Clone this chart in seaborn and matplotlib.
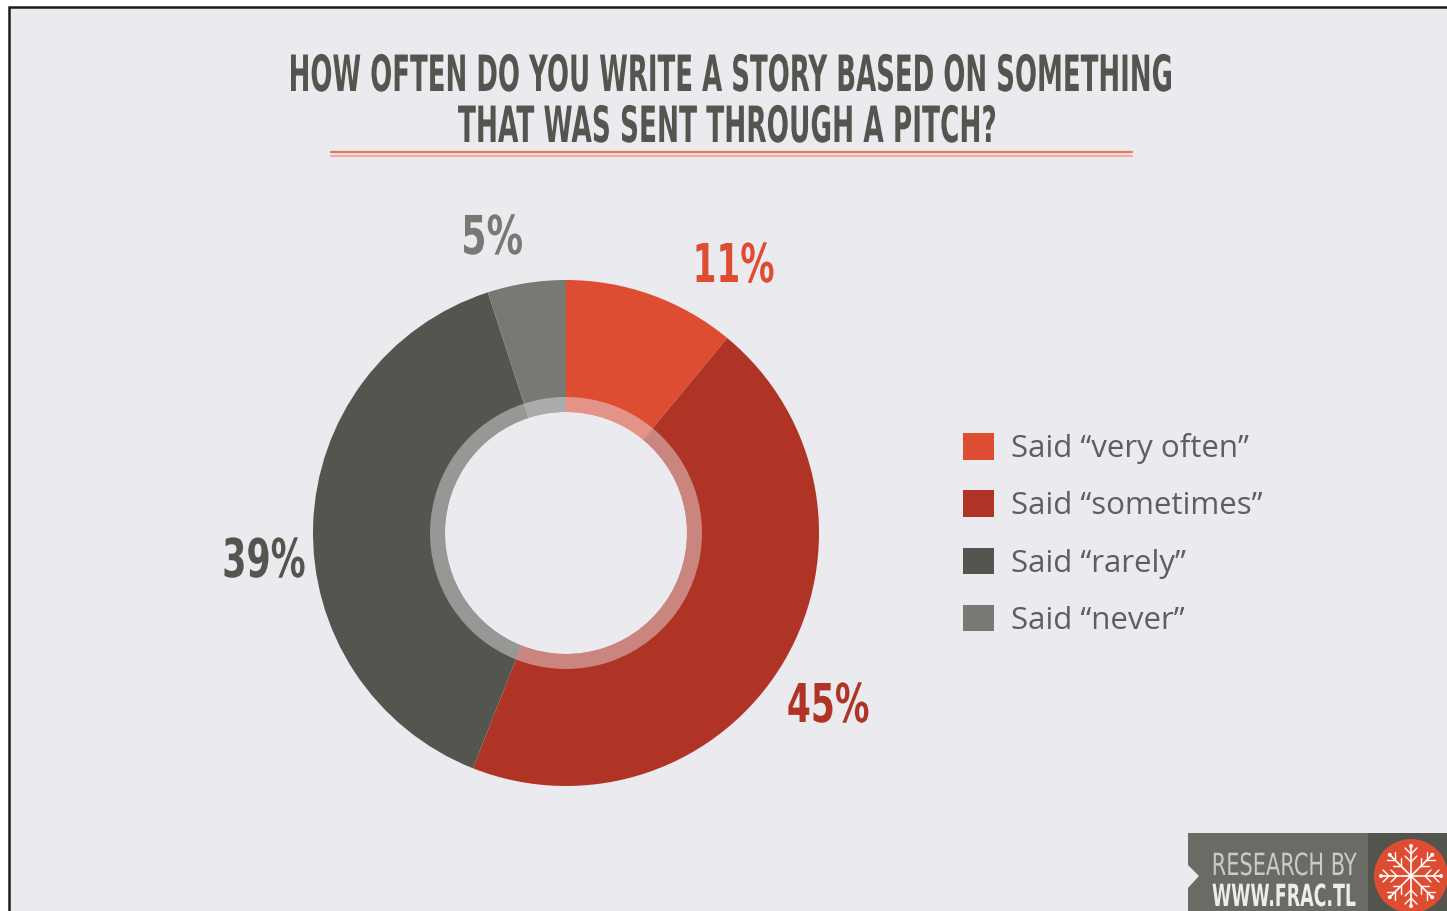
import numpy as np
import matplotlib
matplotlib.use("Agg")
import matplotlib.pyplot as plt
import seaborn as sns
from matplotlib.patches import Rectangle, Polygon, Circle
from matplotlib.lines import Line2D
from matplotlib.patheffects import AbstractPathEffect
from matplotlib.transforms import Affine2D

# ---------------- data ----------------
categories = ["very often", "sometimes", "rarely", "never"]
shares = [11, 45, 39, 5]
pct_labels = ["11%", "45%", "39%", "5%"]
legend_labels = ["Said \u201cvery often\u201d", "Said \u201csometimes\u201d",
                 "Said \u201crarely\u201d", "Said \u201cnever\u201d"]
title_lines = ["HOW OFTEN DO YOU WRITE A STORY BASED ON SOMETHING",
               "THAT WAS SENT THROUGH A PITCH?"]

# ---------------- style ----------------
W, H = 1447, 911
BG = "#EBEAEF"
palette = sns.color_palette(["#DE4C32", "#AF3425", "#54554E", "#787975"])
TITLE_C = "#55554F"
COND = ["DejaVu Sans"]

sns.set_theme(style="white")
plt.rcParams["font.family"] = ["Open Sans", "DejaVu Sans"]


class Condense(AbstractPathEffect):
    """Draw text condensed: ink spans width_px horizontally, height scaled by sy."""

    def __init__(self, width_px, sy=1.0, anchor="center"):
        super().__init__()
        self.w = width_px
        self.sy = sy
        self.anchor = anchor

    def draw_path(self, renderer, gc, tpath, affine, rgbFace=None):
        bb = tpath.get_extents(affine)
        if bb.width > 0:
            sx = self.w * renderer.points_to_pixels(72) / 100 / bb.width
            a = bb.x0 if self.anchor == "left" else 0.5 * (bb.x0 + bb.x1)
            y0 = affine.transform(np.array([[0.0, 0.0]]))[0][1]
            affine = affine + Affine2D().translate(-a, -y0).scale(sx, self.sy).translate(a, y0)
        renderer.draw_path(gc, tpath, affine, rgbFace)


fig = plt.figure(figsize=(W / 100, H / 100), dpi=100)
fig.patch.set_facecolor("white")


def fx(px):
    return px / W


def fy(py):
    return 1 - py / H


# framed panel
fig.add_artist(Rectangle((fx(9), fy(H + 20)), (W + 20 - 9) / W, (H + 20 - 7) / H,
                         transform=fig.transFigure, facecolor=BG,
                         edgecolor="#1c1c1c", linewidth=1.8, zorder=0))

# title
fig.text(fx(732), fy(91), title_lines[0], ha="center", va="baseline",
         fontsize=26, fontweight="bold", family=COND, color=TITLE_C,
         path_effects=[Condense(880, 36 / 26)])
fig.text(fx(728.5), fy(142), title_lines[1], ha="center", va="baseline",
         fontsize=26, fontweight="bold", family=COND, color=TITLE_C,
         path_effects=[Condense(537, 36 / 26)])
fig.add_artist(Line2D([fx(331), fx(1132)], [fy(151.5)] * 2, color="#E8785E",
                      linewidth=1.6, transform=fig.transFigure))
fig.add_artist(Line2D([fx(331), fx(1132)], [fy(156)] * 2, color="#F2AE9C",
                      linewidth=1.6, transform=fig.transFigure))

# donut
R, CX, CY = 253, 566, 533
ax = fig.add_axes([fx(CX - R), fy(CY + R), 2 * R / W, 2 * R / H])
ax.set_facecolor("none")
wedges, _ = ax.pie(shares, colors=palette, startangle=90, counterclock=False,
                   radius=1.0, wedgeprops=dict(width=1 - 121 / R, linewidth=0))
ax.pie(shares, colors=[BG] * len(shares), startangle=90, counterclock=False,
       radius=136 / R, wedgeprops=dict(width=15 / R, linewidth=0, alpha=0.45))
ax.set_xlim(-1, 1)
ax.set_ylim(-1, 1)
ax.set_aspect("equal")
ax.axis("off")

label_pos = [(0.662, 0.992), (1.036, -0.747), (-1.194, -0.174), (-0.292, 1.103)]
label_w = [77, 80, 80, 58]
for (x, y), lbl, c, w in zip(label_pos, pct_labels, palette, label_w):
    ax.text(x, y, lbl, ha="center", va="baseline", fontsize=26,
            fontweight="bold", family=COND, color=c, clip_on=False,
            path_effects=[Condense(w, 38.5 / 26)])

# legend
fig.legend(wedges, legend_labels, loc="upper left",
           bbox_to_anchor=(fx(963), fy(433)), bbox_transform=fig.transFigure,
           frameon=False, fontsize=22.5, handlelength=0.98, handleheight=0.93,
           handletextpad=0.55, labelspacing=0.84, borderpad=0, borderaxespad=0,
           labelcolor="#5E5E5E")

# research-by badge
lax = fig.add_axes([fx(1180), 0, (W - 1180) / W, (H - 820) / H])
lax.set_xlim(1180, W)
lax.set_ylim(H, 820)
lax.axis("off")
lax.add_patch(Polygon([(1188, 833), (1368, 833), (1368, H + 5), (1188, H + 5),
                       (1188, 888), (1199, 876), (1188, 865)],
                      closed=True, facecolor="#6B6B65", edgecolor="none"))
lax.add_patch(Rectangle((1368, 833), W - 1368, H - 833 + 5,
                        facecolor="#53544E", edgecolor="none"))
lax.add_patch(Circle((1411, 876), 37, facecolor="#DE4C32", edgecolor="none"))
for k in range(8):
    a = np.pi / 2 + k * np.pi / 4
    ux, uy = np.cos(a), np.sin(a)
    px, py = -uy, ux
    lax.plot([1411, 1411 + 28 * ux], [876, 876 + 28 * uy], color="white", lw=1.2)
    for t in (14, 22):
        bx, by = 1411 + t * ux, 876 + t * uy
        lax.plot([bx, bx + 6 * (ux + px)], [by, by + 6 * (uy + py)], color="white", lw=1.0)
        lax.plot([bx, bx + 6 * (ux - px)], [by, by + 6 * (uy - py)], color="white", lw=1.0)
    lax.add_patch(Circle((1411 + 30 * ux, 876 + 30 * uy), 2, facecolor="white",
                         edgecolor="none"))
lax.text(1212, 875, "RESEARCH BY", ha="left", va="baseline", fontsize=13,
         family=COND, color="#CACACA", path_effects=[Condense(143, 22 / 13, "left")])
lax.text(1212, 906, "WWW.FRAC.TL", ha="left", va="baseline", fontsize=13,
         fontweight="bold", family=COND, color="#EDEDED",
         path_effects=[Condense(143, 22 / 13, "left")])

fig.savefig("out.png", dpi=100, facecolor=fig.get_facecolor())
